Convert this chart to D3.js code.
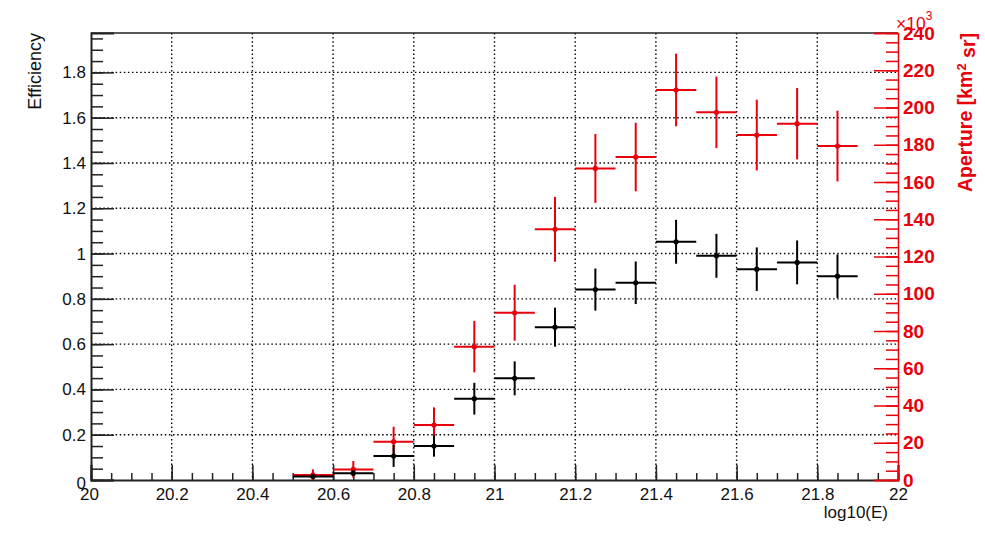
<!DOCTYPE html>
<html>
<head>
<meta charset="utf-8">
<script src="https://cdn.jsdelivr.net/npm/d3@7"></script>
<style>
  body { margin: 0; background: #fff; }
  svg { font-family: "Liberation Sans", Arial, Helvetica, sans-serif; }
</style>
</head>
<body>
<script>
// datos: centros de bin en log10(E), ancho 0.1
const binCenters = [20.55, 20.65, 20.75, 20.85, 20.95, 21.05, 21.15, 21.25, 21.35, 21.45, 21.55, 21.65, 21.75, 21.85];
const binWidth = 0.1;

// eficiencia (eje izquierdo)
const efficiency    = [0.015, 0.030, 0.106, 0.150, 0.359, 0.449, 0.675, 0.841, 0.871, 1.052, 0.990, 0.931, 0.961, 0.900];
const efficiencyErr = [0.008, 0.012, 0.048, 0.047, 0.070, 0.075, 0.086, 0.093, 0.094, 0.097, 0.097, 0.096, 0.097, 0.096];

// apertura en 10^3 km^2 sr (eje derecho)
const aperture    = [2.7, 5.7, 20.6, 29.5, 71.6, 89.8, 134.6, 167.3, 173.4, 209.4, 197.4, 185.2, 191.3, 179.3];
const apertureErr = [3.0, 4.5, 8.0, 9.5, 13.8, 15.0, 17.4, 18.5, 18.4, 19.5, 19.2, 19.0, 19.2, 19.0];

// ticks
const xTicks = [20, 20.2, 20.4, 20.6, 20.8, 21, 21.2, 21.4, 21.6, 21.8, 22];
const yLeftTicks = [0, 0.2, 0.4, 0.6, 0.8, 1, 1.2, 1.4, 1.6, 1.8];
const yRightTicks = [0, 20, 40, 60, 80, 100, 120, 140, 160, 180, 200, 220, 240];

const W = 985, H = 535;
const frame = { left: 91, right: 898, top: 33, bottom: 480 };
const red = "#e8000b";

const svg = d3.select("body").append("svg")
    .attr("width", W)
    .attr("height", H);

// escalas
const x = d3.scaleLinear().domain([20, 22]).range([frame.left, frame.right]);
const yL = d3.scaleLinear().domain([0, 1.974]).range([frame.bottom, frame.top]);
const yR = d3.scaleLinear().domain([0, 240]).range([frame.bottom, frame.top]);

const xMinor = d3.range(20, 22.001, 0.05).map(v => +v.toFixed(2));
const yLMinor = d3.range(0, 1.97, 0.05).map(v => +v.toFixed(2));
const yRMinor = d3.range(0, 240.1, 5);

// rejilla punteada
const grid = svg.append("g")
    .attr("stroke", "#000")
    .attr("stroke-width", 1.4)
    .attr("stroke-dasharray", "1.5,2.6");

grid.selectAll(".gx")
    .data(xTicks.slice(1, -1))
    .enter().append("line")
    .attr("x1", d => x(d)).attr("x2", d => x(d))
    .attr("y1", frame.top).attr("y2", frame.bottom);

grid.selectAll(".gy")
    .data(yLeftTicks.slice(1))
    .enter().append("line")
    .attr("x1", frame.left).attr("x2", frame.right)
    .attr("y1", d => yL(d)).attr("y2", d => yL(d));

// marco superior
svg.append("line")
    .attr("x1", frame.left).attr("x2", frame.right)
    .attr("y1", frame.top).attr("y2", frame.top)
    .attr("stroke", "#222").attr("stroke-width", 1.5);

// eje X
const xAxis = svg.append("g")
    .attr("transform", "translate(0," + frame.bottom + ")")
    .call(d3.axisBottom(x).tickValues(xTicks).tickSize(-15).tickPadding(8)
        .tickFormat(d => d3.format("")(d)));
const xAxisMinor = svg.append("g")
    .attr("transform", "translate(0," + frame.bottom + ")")
    .call(d3.axisBottom(x).tickValues(xMinor).tickSize(-7).tickFormat(""))
    .call(g => g.select(".domain").remove());

xAxis.selectAll("text")
    .attr("font-size", "17px")
    .attr("fill", "#111");
xAxis.select(".tick text").attr("dx", "-2px");

// eje Y izquierdo
const yAxisL = svg.append("g")
    .attr("transform", "translate(" + frame.left + ",0)")
    .call(d3.axisLeft(yL).tickValues(yLeftTicks).tickSize(-23).tickPadding(5)
        .tickFormat(d => d3.format("")(d)));
const yAxisLMinor = svg.append("g")
    .attr("transform", "translate(" + frame.left + ",0)")
    .call(d3.axisLeft(yL).tickValues(yLMinor).tickSize(-12).tickFormat(""))
    .call(g => g.select(".domain").remove());

yAxisL.selectAll("text")
    .attr("font-size", "17px")
    .attr("fill", "#111");
yAxisL.selectAll(".tick").filter(d => d === 0).select("text").attr("dy", "0.5em");

// eje Y derecho (rojo)
const yAxisR = svg.append("g")
    .attr("transform", "translate(" + frame.right + ",0)")
    .call(d3.axisRight(yR).tickValues(yRightTicks).tickSize(-24).tickPadding(5));
const yAxisRMinor = svg.append("g")
    .attr("transform", "translate(" + frame.right + ",0)")
    .call(d3.axisRight(yR).tickValues(yRMinor).tickSize(-12).tickFormat(""))
    .call(g => g.select(".domain").remove());

[yAxisR, yAxisRMinor].forEach(a => {
    a.selectAll("line").attr("stroke", red).attr("stroke-width", 1.5);
});
yAxisR.select(".domain").attr("stroke", red).attr("stroke-width", 1.5);
yAxisR.selectAll("text")
    .attr("font-size", "19px")
    .attr("font-weight", "bold")
    .attr("fill", red);

// grosor de ejes negros
[xAxis, yAxisL].forEach(a => {
    a.select(".domain").attr("stroke", "#222").attr("stroke-width", 2);
});
[xAxis, yAxisL, xAxisMinor, yAxisLMinor].forEach(a => {
    a.selectAll(".tick line").attr("stroke", "#222").attr("stroke-width", 1.5);
});
svg.selectAll(".domain").attr("fill", "none");

// títulos
svg.append("text")
    .attr("transform", "translate(41," + frame.top + ") rotate(-90)")
    .attr("text-anchor", "end")
    .attr("font-size", "18px")
    .attr("fill", "#111")
    .text("Efficiency");

svg.append("text")
    .attr("x", 888)
    .attr("y", 518)
    .attr("text-anchor", "end")
    .attr("font-size", "17px")
    .attr("fill", "#111")
    .text("log10(E)");

const rTitle = svg.append("text")
    .attr("transform", "translate(972," + frame.top + ") rotate(-90)")
    .attr("text-anchor", "end")
    .attr("font-size", "19.5px")
    .attr("font-weight", "bold")
    .attr("fill", red);
rTitle.append("tspan").text("Aperture [km");
rTitle.append("tspan").attr("dy", "-0.5em").attr("font-size", "13px").text("2");
rTitle.append("tspan").attr("dy", "0.5em").text(" sr]");

// multiplicador ×10^3 del eje derecho
const expo = svg.append("text")
    .attr("x", 896)
    .attr("y", 30)
    .attr("font-size", "17.5px")
    .attr("fill", red);
expo.append("tspan").text("\u00d710");
expo.append("tspan").attr("dy", "-10").attr("font-size", "12px").text("3");

// puntos con barras de error
function drawSeries(values, errs, yScale, color) {
    const g = svg.append("g")
        .attr("stroke", color)
        .attr("stroke-width", 2);
    const pts = binCenters.map((c, i) => ({ c: c, v: values[i], e: errs[i] }));
    g.selectAll(".hbar")
        .data(pts)
        .enter().append("line")
        .attr("x1", d => x(d.c - binWidth / 2))
        .attr("x2", d => x(d.c + binWidth / 2))
        .attr("y1", d => yScale(d.v))
        .attr("y2", d => yScale(d.v));
    g.selectAll(".vbar")
        .data(pts)
        .enter().append("line")
        .attr("x1", d => x(d.c))
        .attr("x2", d => x(d.c))
        .attr("y1", d => yScale(Math.max(0, d.v - d.e)))
        .attr("y2", d => yScale(d.v + d.e));
    g.selectAll("circle")
        .data(pts)
        .enter().append("circle")
        .attr("cx", d => x(d.c))
        .attr("cy", d => yScale(d.v))
        .attr("r", 2.6)
        .attr("fill", color)
        .attr("stroke", "none");
}

drawSeries(aperture, apertureErr, yR, red);
drawSeries(efficiency, efficiencyErr, yL, "#000");
</script>
</body>
</html>
